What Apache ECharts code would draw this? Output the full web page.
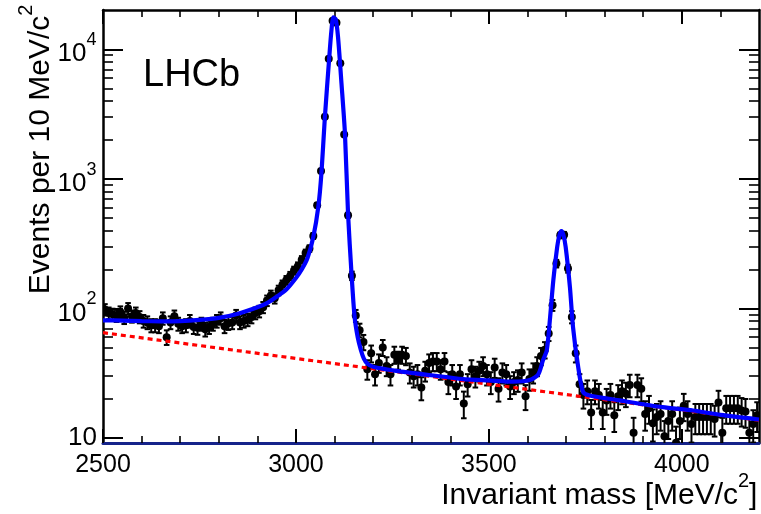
<!DOCTYPE html>
<html>
<head>
    <meta charset="utf-8">
    <title>LHCb invariant mass</title>
    <script src="https://cdn.jsdelivr.net/npm/echarts@6/dist/echarts.min.js"></script>
    <style>
        html, body, #main {
            width: 100%;
            height: 100%;
            margin: 0;
            background: #fff;
        }
    </style>
</head>
<body>
<div id="main"></div>
<script type="text/javascript">
    // histogram: 10 MeV bins from 2500 to 4200
    var binLow = 2500;
    var binWidth = 10;
    var counts = [
        98, 92, 90, 88, 94, 85, 100, 87, 92, 86,
        80, 78, 74, 74, 73, 84, 60, 78, 87, 76,
        73, 74, 80, 72, 71, 76, 69, 72, 76, 80,
        84, 73, 77, 78, 88, 78, 80, 82, 86, 92,
        95, 102, 115, 126, 120, 138, 152, 165, 178, 196,
        212, 238, 268, 290, 363, 627, 1148, 3015, 8460, 16630,
        16050, 7800, 2200, 524, 179, 88, 68, 55, 34, 45,
        31, 38, 50, 36, 31, 44, 40, 44, 43, 32,
        30, 31, 24.5, 33, 38, 39, 39, 34, 39, 27,
        31, 25, 31, 18.5, 26, 34, 30, 33, 36, 31,
        27, 35, 24, 32, 31, 25, 27, 28, 32, 21,
        28.5, 32, 36, 43, 48, 64, 106, 222, 367, 370,
        203, 86, 45, 26, 21.5, 23, 15.7, 23, 21.5, 15.7,
        19.5, 21.5, 15, 21, 23, 22, 25.7, 11, 25.7, 24,
        15.3, 17, 13, 14.5, 15.3, 10.3, 13.5, 15.3, 9.2, 13.5,
        17.7, 15.3, 12.8, 14.5, 14.5, 14.5, 14.5, 14.5, 14, 18.8,
        11, 17, 17, 17, 17, 16.3, 16, 11, 12.8, 15
    ];

    // total fit (blue)
    var fitCurve = [
        [2500, 81], [2550, 80.5], [2600, 79.8], [2650, 79.5], [2700, 79.8], [2750, 81.5],
        [2800, 84.5], [2850, 91], [2900, 102], [2925, 110], [2950, 123], [2975, 140],
        [3000, 172], [3015, 200], [3030, 245], [3045, 356], [3058, 608], [3066, 1100],
        [3075, 3000], [3086, 8400], [3092, 14000], [3097, 17600], [3103, 17100], [3109, 12500],
        [3118, 5460], [3127, 2240], [3135, 540], [3144, 186], [3152, 86], [3160, 60],
        [3168, 48], [3176, 41], [3185, 37.5], [3200, 35.5], [3260, 33], [3350, 30.5],
        [3433, 28.5], [3500, 27.8], [3563, 27.2], [3606, 28], [3628, 31], [3640, 39.7],
        [3650, 47.4], [3658, 81], [3667, 165], [3677, 298], [3683, 370], [3688, 395],
        [3693, 370], [3699, 298], [3710, 146], [3718, 72], [3731, 36], [3744, 22.7],
        [3761, 21.3], [3839, 19.5], [3950, 17.3], [4029, 16.3], [4100, 15.1], [4200, 13.9]
    ];

    // combinatorial background (red dashed)
    var bkgCurve = [[2500, 65], [4200, 13.7]];

    var xTicks = [2500, 3000, 3500, 4000];
    var yTicks = [10, 100, 1000, 10000];
    var yMinorTicks = [20, 30, 40, 50, 60, 70, 80, 90,
        200, 300, 400, 500, 600, 700, 800, 900,
        2000, 3000, 4000, 5000, 6000, 7000, 8000, 9000];

    var FONT = '"Liberation Sans", Arial, Helvetica, sans-serif';

    var points = counts.map(function (n, i) {
        return [binLow + binWidth * (i + 0.5), n, Math.sqrt(n)];
    });

    function renderPoint(params, api) {
        var x = api.value(0), y = api.value(1), e = api.value(2);
        var c = api.coord([x, y]);
        var lo = api.coord([x, Math.max(y - e, 0.01)]);
        var hi = api.coord([x, y + e]);
        var cap = 2.8;
        var st = {stroke: '#000', lineWidth: 2};
        return {
            type: 'group',
            children: [
                {type: 'line', shape: {x1: c[0], y1: lo[1], x2: c[0], y2: hi[1]}, style: st},
                {type: 'line', shape: {x1: c[0] - cap, y1: lo[1], x2: c[0] + cap, y2: lo[1]}, style: st},
                {type: 'line', shape: {x1: c[0] - cap, y1: hi[1], x2: c[0] + cap, y2: hi[1]}, style: st},
                {type: 'circle', shape: {cx: c[0], cy: c[1], r: 4}, style: {fill: '#000'}}
            ]
        };
    }

    function xAxisDef(pos) {
        return {
            type: 'value', position: pos, min: 2500, max: 4200, interval: 500,
            axisLine: {show: true, onZero: false, lineStyle: {color: pos === 'bottom' ? '#16238a' : '#000', width: pos === 'bottom' ? 3 : 2.5}},
            axisTick: {show: true, inside: true, length: 14, customValues: xTicks, lineStyle: {color: '#000', width: 2}},
            minorTick: {show: true, splitNumber: 5, length: 7, lineStyle: {color: '#000', width: 1.6}},
            axisLabel: {
                show: pos === 'bottom', customValues: xTicks, margin: 10,
                formatter: function (v) { return String(v); },
                fontSize: 25, fontFamily: FONT, color: '#000'
            },
            splitLine: {show: false},
            minorSplitLine: {show: false}
        };
    }

    function yAxisDef(pos, minor) {
        return {
            type: 'log', logBase: 10, position: pos, min: 9.15, max: 20100,
            axisLine: {show: !minor, onZero: false, lineStyle: {color: '#000', width: 2.5}},
            axisTick: {
                show: true, inside: true, length: minor ? 10 : 20,
                customValues: minor ? yMinorTicks : yTicks,
                lineStyle: {color: '#000', width: minor ? 1.6 : 2}
            },
            minorTick: {show: false},
            axisLabel: {
                show: pos === 'left' && !minor, customValues: yTicks, margin: 6,
                formatter: function (v) {
                    var e = Math.round(Math.log(v) / Math.LN10);
                    return e === 1 ? '{b|10}' : '{b|10}{s|' + e + '}{p| }';
                },
                rich: {
                    b: {fontSize: 26, lineHeight: 26, fontFamily: FONT, color: '#000', verticalAlign: 'bottom'},
                    s: {fontSize: 18, lineHeight: 24, fontFamily: FONT, color: '#000', verticalAlign: 'top'},
                    p: {fontSize: 2, lineHeight: 36}
                }
            },
            splitLine: {show: false}
        };
    }

    var myChart = echarts.init(document.getElementById('main'));
    var option = {
        animation: false,
        backgroundColor: '#fff',
        grid: {left: 103, right: 2, top: 10, bottom: 71, containLabel: false},
        xAxis: [xAxisDef('bottom'), xAxisDef('top')],
        yAxis: [yAxisDef('left', false), yAxisDef('left', true), yAxisDef('right', false), yAxisDef('right', true)],
        graphic: [
            {
                type: 'text', x: 143, y: 76, z: 10,
                style: {text: 'LHCb', font: '38px ' + FONT, fill: '#000', verticalAlign: 'middle'}
            },
            {
                type: 'text', x: 758, y: 511, z: 10,
                style: {
                    text: '{t|Invariant mass [MeV/c}{u|2}{t|]}{p| }',
                    align: 'right', verticalAlign: 'bottom',
                    rich: {
                        t: {fontSize: 30, lineHeight: 30, fontFamily: FONT, fill: '#000', verticalAlign: 'bottom'},
                        u: {fontSize: 20, lineHeight: 30, fontFamily: FONT, fill: '#000', verticalAlign: 'top'},
                        p: {fontSize: 2, lineHeight: 40}
                    }
                }
            },
            {
                type: 'text', x: 56, y: 4, rotation: Math.PI / 2, z: 10,
                style: {
                    text: '{t|Events per 10 MeV/c}{u|2}{p| }',
                    align: 'right', verticalAlign: 'bottom',
                    rich: {
                        t: {fontSize: 30, lineHeight: 30, fontFamily: FONT, fill: '#000', verticalAlign: 'bottom'},
                        u: {fontSize: 20, lineHeight: 30, fontFamily: FONT, fill: '#000', verticalAlign: 'top'},
                        p: {fontSize: 2, lineHeight: 40}
                    }
                }
            }
        ],
        series: [
            {
                name: 'data', type: 'custom', renderItem: renderPoint, clip: true,
                xAxisIndex: 0, yAxisIndex: 0, encode: {x: 0, y: 1}, data: points, z: 2
            },
            {
                name: 'background', type: 'line', xAxisIndex: 0, yAxisIndex: 0, data: bkgCurve,
                showSymbol: false, symbol: 'none', clip: true, z: 3,
                lineStyle: {color: '#ff0000', width: 3.2, type: [5, 4]}
            },
            {
                name: 'fit', type: 'line', xAxisIndex: 0, yAxisIndex: 0, data: fitCurve,
                showSymbol: false, symbol: 'none', smooth: 0.25, clip: true, z: 4,
                lineStyle: {color: '#0000ff', width: 4.2}
            }
        ]
    };
    if (option && typeof option === "object") {
        myChart.setOption(option, true);
    }
</script>
</body>
</html>
